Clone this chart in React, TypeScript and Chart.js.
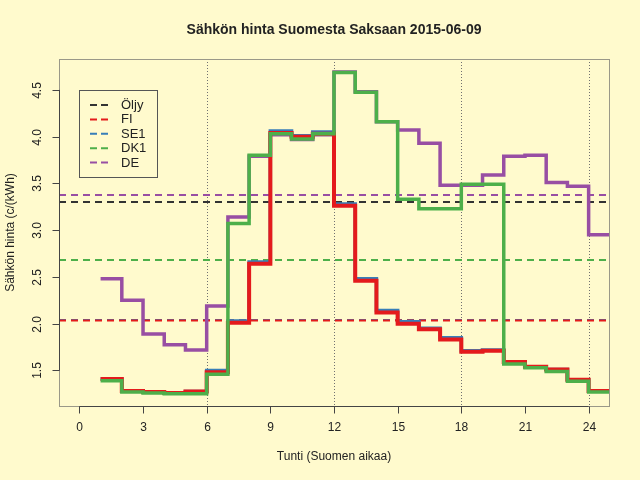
import React, { useEffect, useRef } from 'react';
import { Chart, registerables } from 'chart.js';

Chart.register(...registerables);

// hour of day (Finnish time); last point closes the final step
const hours = [1, 2, 3, 4, 5, 6, 7, 8, 9, 10, 11, 12, 13, 14, 15, 16, 17, 18, 19, 20, 21, 22, 23, 24, 25];

const fiPrice = [1.41, 1.28, 1.27, 1.26, 1.275, 1.48, 2.01, 2.64, 4.04, 4.0, 4.03, 3.26, 2.46, 2.12, 2.0, 1.94, 1.83, 1.7, 1.71, 1.59, 1.54, 1.51, 1.4, 1.28, 1.28];
const se1Price = [1.41, 1.28, 1.27, 1.26, 1.275, 1.5, 2.03, 2.66, 4.06, 4.01, 4.05, 3.28, 2.48, 2.14, 2.02, 1.95, 1.85, 1.71, 1.72, 1.59, 1.54, 1.51, 1.4, 1.28, 1.28];
const dk1Price = [1.39, 1.27, 1.26, 1.25, 1.25, 1.46, 3.07, 3.8, 4.03, 3.975, 4.03, 4.685, 4.475, 4.16, 3.33, 3.23, 3.23, 3.49, 3.49, 1.57, 1.53, 1.49, 1.385, 1.27, 1.27];
const dePrice = [2.48, 2.25, 1.89, 1.775, 1.72, 2.19, 3.14, 3.79, 4.02, 3.97, 4.02, 4.69, 4.48, 4.16, 4.07, 3.93, 3.48, 3.48, 3.59, 3.79, 3.8, 3.51, 3.47, 2.95, 2.95];

// reference levels (dashed lines): Öljy, FI, SE1, DK1, DE
const legendLabels = ['Öljy', 'FI', 'SE1', 'DK1', 'DE'];
const averages = [3.3, 2.035, 2.04, 2.68, 3.375];

const xTicks = [0, 3, 6, 9, 12, 15, 18, 21, 24];
const yTicks = [1.5, 2.0, 2.5, 3.0, 3.5, 4.0, 4.5];
const gridHours = [6, 12, 18, 24];

const xRange = [-0.96, 24.96];
const yRange = [1.12, 4.83];

const colors = ['#333333', '#E41A1C', '#377EB8', '#4DAF4A', '#984EA3'];
const BG = '#FFFACD';
const FONT = '"Liberation Sans", Arial, sans-serif';

const rFrame = {
  id: 'rFrame',
  beforeDraw(chart: any) {
    const { ctx, chartArea: a, scales } = chart;
    ctx.save();
    ctx.fillStyle = BG;
    ctx.fillRect(0, 0, chart.width, chart.height);
    // dotted vertical guides
    ctx.strokeStyle = '#707070';
    ctx.lineWidth = 1;
    ctx.setLineDash([1, 2]);
    gridHours.forEach((h) => {
      const x = Math.round(scales.x.getPixelForValue(h)) + 0.5;
      ctx.beginPath();
      ctx.moveTo(x, a.top);
      ctx.lineTo(x, a.bottom);
      ctx.stroke();
    });
    ctx.restore();
  },
  afterDatasetsDraw(chart: any) {
    const { ctx, chartArea: a, scales } = chart;
    const xs = scales.x;
    const ys = scales.y;
    ctx.save();
    ctx.setLineDash([]);

    // plot box
    ctx.strokeStyle = '#9a9888';
    ctx.lineWidth = 1;
    ctx.strokeRect(a.left + 0.5, a.top + 0.5, a.right - a.left, a.bottom - a.top);

    ctx.strokeStyle = '#444';
    ctx.fillStyle = '#222';
    ctx.font = `12px ${FONT}`;

    // x axis
    const x0 = xs.getPixelForValue(xTicks[0]);
    const x1 = xs.getPixelForValue(xTicks[xTicks.length - 1]);
    const by = Math.round(a.bottom) + 0.5;
    ctx.beginPath();
    ctx.moveTo(x0, by);
    ctx.lineTo(x1, by);
    ctx.stroke();
    ctx.textAlign = 'center';
    ctx.textBaseline = 'middle';
    xTicks.forEach((t) => {
      const x = Math.round(xs.getPixelForValue(t)) + 0.5;
      ctx.beginPath();
      ctx.moveTo(x, by);
      ctx.lineTo(x, by + 7);
      ctx.stroke();
      ctx.fillText(String(t), x, 428);
    });

    // y axis
    const lx = Math.round(a.left) + 0.5;
    const y0 = ys.getPixelForValue(yTicks[0]);
    const y1 = ys.getPixelForValue(yTicks[yTicks.length - 1]);
    ctx.beginPath();
    ctx.moveTo(lx, y0);
    ctx.lineTo(lx, y1);
    ctx.stroke();
    yTicks.forEach((t) => {
      const y = Math.round(ys.getPixelForValue(t)) + 0.5;
      ctx.beginPath();
      ctx.moveTo(lx, y);
      ctx.lineTo(lx - 7, y);
      ctx.stroke();
      ctx.save();
      ctx.translate(38, y);
      ctx.rotate(-Math.PI / 2);
      ctx.fillText(t.toFixed(1), 0, 0);
      ctx.restore();
    });

    // titles
    const cx = (a.left + a.right) / 2;
    ctx.font = `bold 14px ${FONT}`;
    ctx.fillText('Sähkön hinta Suomesta Saksaan 2015-06-09', cx, 30);
    ctx.font = `12px ${FONT}`;
    ctx.fillText('Tunti (Suomen aikaa)', cx, 457);
    ctx.save();
    ctx.translate(11, (a.top + a.bottom) / 2);
    ctx.rotate(-Math.PI / 2);
    ctx.fillText('Sähkön hinta (c/(kWh)', 0, 0);
    ctx.restore();

    // legend
    ctx.fillStyle = BG;
    ctx.fillRect(79.5, 90.5, 78, 87);
    ctx.strokeStyle = '#555';
    ctx.strokeRect(79.5, 90.5, 78, 87);
    ctx.textAlign = 'left';
    ctx.font = `13px ${FONT}`;
    legendLabels.forEach((lab, i) => {
      const y = 105 + i * 14.4;
      ctx.strokeStyle = colors[i];
      ctx.lineWidth = 2;
      ctx.setLineDash([7, 4]);
      ctx.beginPath();
      ctx.moveTo(90, y);
      ctx.lineTo(108, y);
      ctx.stroke();
      ctx.setLineDash([]);
      ctx.fillStyle = '#222';
      ctx.fillText(lab, 121, y + 0.5);
    });
    ctx.restore();
  },
};

const App: React.FC = () => {
  const canvasRef = useRef<HTMLCanvasElement>(null);

  useEffect(() => {
    document.body.style.margin = '0';
    if (!canvasRef.current) return;

    const step = (vals: number[]) => hours.map((h, i) => ({ x: h, y: vals[i] }));
    const level = (v: number) => xRange.map((x) => ({ x, y: v }));

    const series = [
      { label: 'DK1', data: dk1Price, color: colors[3], width: 3.5, order: 1 },
      { label: 'FI', data: fiPrice, color: colors[1], width: 4, order: 2 },
      { label: 'SE1', data: se1Price, color: colors[2], width: 3.5, order: 3 },
      { label: 'DE', data: dePrice, color: colors[4], width: 3.5, order: 4 },
    ];

    const datasets: any[] = series.map((s) => ({
      label: s.label,
      data: step(s.data),
      borderColor: s.color,
      borderWidth: s.width,
      stepped: true,
      pointRadius: 0,
      fill: false,
      clip: 0,
      order: s.order,
    }));

    // dashed levels: FI drawn over SE1
    const levelOrder = [10, 11, 12, 13, 14];
    averages.forEach((v, i) => {
      datasets.push({
        label: legendLabels[i] + ' avg',
        data: level(v),
        borderColor: colors[i],
        borderWidth: 2,
        borderDash: [7, 5],
        pointRadius: 0,
        fill: false,
        clip: 0,
        order: levelOrder[i],
      });
    });

    const chart = new Chart(canvasRef.current, {
      type: 'line',
      data: { datasets },
      options: {
        animation: false,
        responsive: false,
        devicePixelRatio: 1,
        layout: { padding: { left: 59, top: 59, right: 31, bottom: 74 } },
        scales: {
          x: { type: 'linear', min: xRange[0], max: xRange[1], display: false },
          y: { type: 'linear', min: yRange[0], max: yRange[1], display: false },
        },
        plugins: { legend: { display: false }, tooltip: { enabled: false } },
      },
      plugins: [rFrame],
    });

    return () => chart.destroy();
  }, []);

  return (
    <div style={{ position: 'absolute', left: 0, top: 0, width: 640, height: 480 }}>
      <canvas ref={canvasRef} width={640} height={480} />
    </div>
  );
};

export default App;
